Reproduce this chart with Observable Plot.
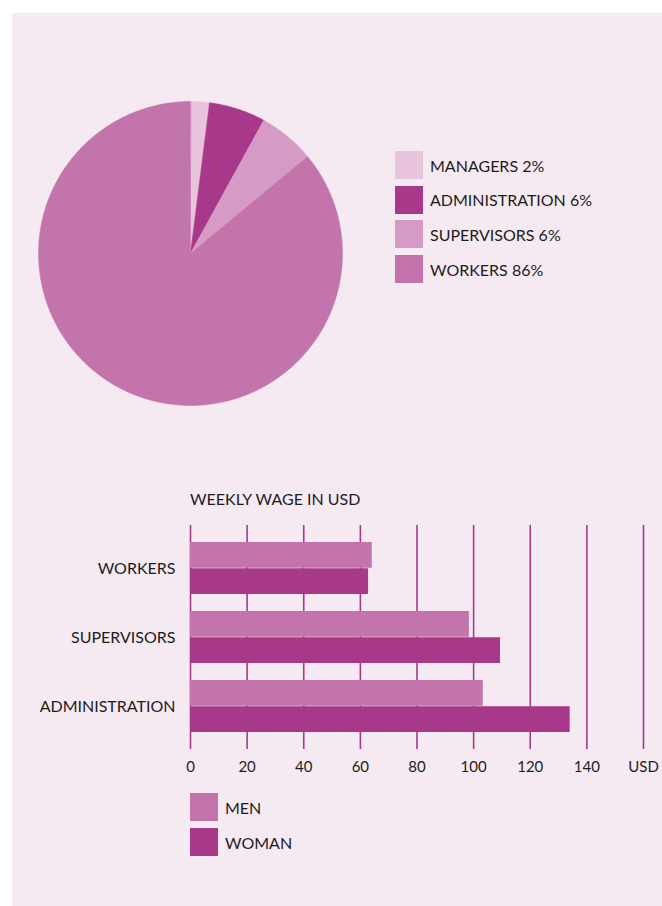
<!DOCTYPE html>
<html>
<head>
<meta charset="utf-8">
<script src="https://cdn.jsdelivr.net/npm/d3@7"></script>
<script src="https://cdn.jsdelivr.net/npm/@observablehq/plot@0.6"></script>
<style>
  html, body { margin: 0; padding: 0; background: #ffffff; }
  body { width: 662px; height: 906px; position: relative; overflow: hidden;
         font-family: Lato, "Noto Sans", sans-serif; color: #1d1d1b; }
  #panel { position: absolute; left: 12px; top: 13px; right: 0; bottom: 0; background: #f5e9f2; }
  .abs { position: absolute; }
  .legend-row { position: absolute; display: flex; align-items: center; font-size: 16px; }
  .sw { width: 28px; height: 28px; margin-right: 7px; }
  #title { position: absolute; left: 190px; top: 489px; font-size: 16px; }
</style>
</head>
<body>
<div id="panel"></div>
<div id="pie" class="abs" style="left:38px; top:101px;"></div>
<div id="pieLegend"></div>
<div id="title">WEEKLY WAGE IN USD</div>
<div id="bars" class="abs" style="left:0px; top:480px;"></div>
<div id="barLegend"></div>
<script>
// ---- Data ----
const sliceNames = ["MANAGERS", "ADMINISTRATION", "SUPERVISORS", "WORKERS"];
const sliceShares = [2, 6, 6, 86];
const sliceColors = ["#e8c3dc", "#a8388a", "#d59bc5", "#c374ab"];

const wageCategories = ["WORKERS", "SUPERVISORS", "ADMINISTRATION"];
const wageMen = [64.2, 98.5, 103.4];
const wageWomen = [62.9, 109.5, 134.1];
const sexLabels = ["MEN", "WOMAN"];
const sexColors = ["#c374ab", "#a8388a"];
const xTicks = [0, 20, 40, 60, 80, 100, 120, 140, 160];
const xTickLabels = ["0", "20", "40", "60", "80", "100", "120", "140", "USD"];

// ---- Pie (slices built from shares, drawn with Plot.geo) ----
const total = d3.sum(sliceShares);
let acc = 0;
const features = sliceNames.map((name, i) => {
  const a0 = acc / total * 2 * Math.PI;
  acc += sliceShares[i];
  const a1 = acc / total * 2 * Math.PI;
  const n = Math.max(4, Math.ceil((a1 - a0) / (Math.PI / 180)));
  const ring = [[0, 0]];
  for (let k = 0; k <= n; k++) {
    const a = a0 + (a1 - a0) * k / n;
    ring.push([Math.sin(a), Math.cos(a)]);
  }
  ring.push([0, 0]);
  return {type: "Feature", properties: {name, color: sliceColors[i]},
          geometry: {type: "Polygon", coordinates: [ring]}};
});
const circle = {type: "Polygon", coordinates: [d3.range(0, 361, 2).map(d => {
  const a = d * Math.PI / 180; return [Math.sin(a), Math.cos(a)];
})]};

const pie = Plot.plot({
  width: 304, height: 304,
  margin: 0,
  projection: {type: "reflect-y", domain: circle},
  style: {background: "transparent", overflow: "visible"},
  marks: [
    Plot.geo(features, {fill: d => d.properties.color, stroke: d => d.properties.color, strokeWidth: 0.5})
  ]
});
document.getElementById("pie").appendChild(pie);

// ---- Pie legend ----
const pl = document.getElementById("pieLegend");
sliceNames.forEach((name, i) => {
  const row = document.createElement("div");
  row.className = "legend-row";
  row.style.left = "395px";
  row.style.top = (151 + i * 34.7) + "px";
  row.innerHTML = `<div class="sw" style="background:${sliceColors[i]}"></div><span>${name} ${sliceShares[i]}%</span>`;
  pl.appendChild(row);
});

// ---- Bar chart ----
const wageRows = wageCategories.flatMap((c, i) => [
  {category: c, sex: sexLabels[0], value: wageMen[i]},
  {category: c, sex: sexLabels[1], value: wageWomen[i]}
]);
const bandHalf = 52.5 / 2;
const bars = Plot.plot({
  width: 662, height: 304,
  marginLeft: 190, marginRight: 19, marginTop: 45, marginBottom: 35,
  style: {background: "transparent", fontFamily: "Lato, 'Noto Sans', sans-serif", fontSize: "15px", color: "#1d1d1b", overflow: "visible"},
  x: {domain: [0, 160], ticks: xTicks, tickFormat: (d) => xTickLabels[xTicks.indexOf(d)], tickSize: 0, tickPadding: 12, label: null},
  y: {domain: wageCategories, paddingInner: 0.2446, paddingOuter: 0.234, align: 0.5, tickSize: 0, tickPadding: 15, label: null},
  marks: [
    Plot.ruleX(xTicks, {stroke: "#a8388a", strokeWidth: 1.6}),
    Plot.barX(wageRows.filter(d => d.sex === sexLabels[0]), {x: "value", y: "category", fill: sexColors[0], insetBottom: bandHalf}),
    Plot.barX(wageRows.filter(d => d.sex === sexLabels[1]), {x: "value", y: "category", fill: sexColors[1], insetTop: bandHalf}),
    Plot.axisY({tickSize: 0, tickPadding: 15, fontSize: 16, label: null})
  ]
});
document.getElementById("bars").appendChild(bars);

// ---- Bar legend ----
const bl = document.getElementById("barLegend");
sexLabels.forEach((name, i) => {
  const row = document.createElement("div");
  row.className = "legend-row";
  row.style.left = "190px";
  row.style.top = (793 + i * 35) + "px";
  row.innerHTML = `<div class="sw" style="background:${sexColors[i]}"></div><span>${name}</span>`;
  bl.appendChild(row);
});
</script>
</body>
</html>
